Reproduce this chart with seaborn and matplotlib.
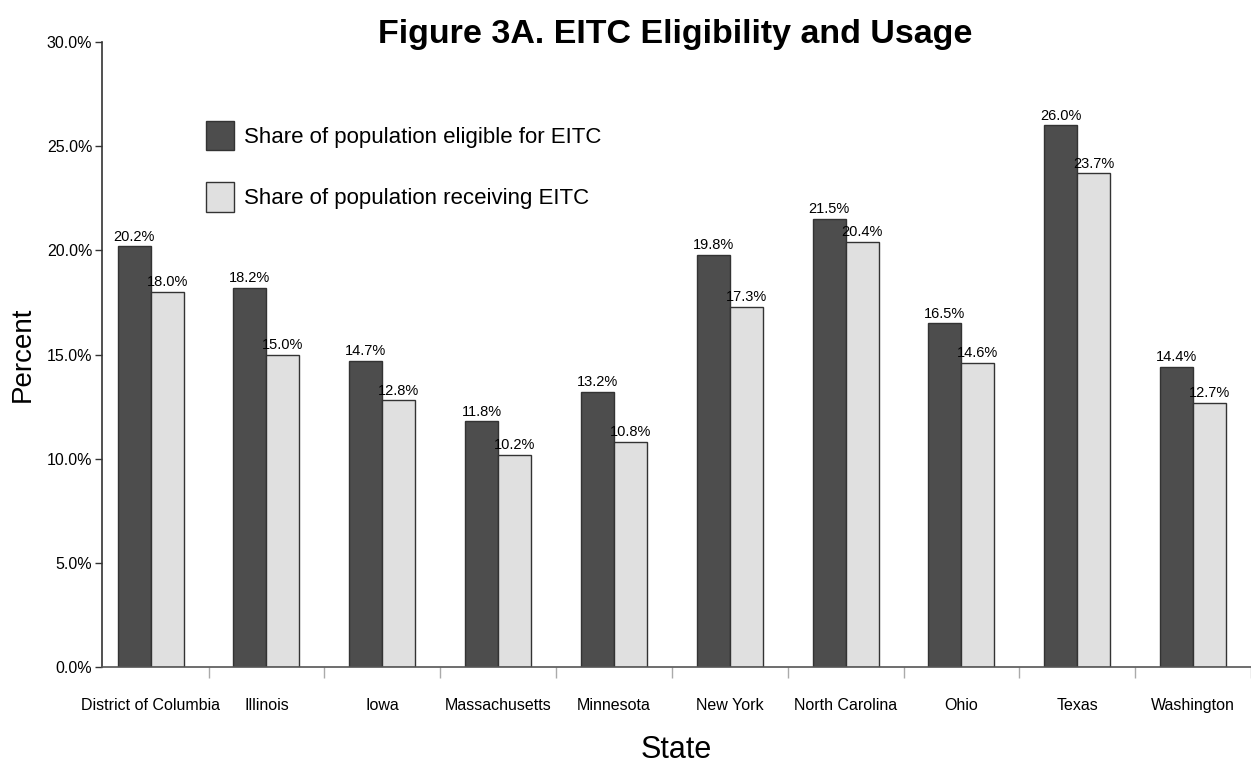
import matplotlib
matplotlib.use("Agg")
import matplotlib.pyplot as plt
import seaborn as sns
import pandas as pd
from matplotlib.patches import Patch
from matplotlib.ticker import FuncFormatter, FixedLocator

states = ["District of Columbia", "Illinois", "Iowa", "Massachusetts", "Minnesota",
          "New York", "North Carolina", "Ohio", "Texas", "Washington"]
eligible = [20.2, 18.2, 14.7, 11.8, 13.2, 19.8, 21.5, 16.5, 26.0, 14.4]
receiving = [18.0, 15.0, 12.8, 10.2, 10.8, 17.3, 20.4, 14.6, 23.7, 12.7]
series = ["Share of population eligible for EITC", "Share of population receiving EITC"]
colors = ["#4d4d4d", "#e0e0e0"]

df = pd.DataFrame({
    "State": states * 2,
    "Percent": eligible + receiving,
    "Series": [series[0]] * len(states) + [series[1]] * len(states),
})

sns.set_theme(style="white")
plt.rcParams["font.family"] = ["Liberation Sans", "DejaVu Sans"]
plt.rcParams["text.color"] = "black"
plt.rcParams["axes.labelcolor"] = "black"
plt.rcParams["xtick.color"] = "black"
plt.rcParams["ytick.color"] = "black"

fig = plt.figure(figsize=(12.51, 7.66), dpi=100)
ax = fig.add_axes([0.0815, 0.129, 0.9185, 0.816])

sns.barplot(data=df, x="State", y="Percent", hue="Series", order=states,
            hue_order=series, palette=colors, width=0.57, edgecolor="#333333",
            linewidth=1.0, legend=False, ax=ax)

for container in ax.containers:
    ax.bar_label(container, labels=[f"{v:.1f}%" for v in container.datavalues],
                 padding=2, fontsize=10.5, color="black")

ax.set_ylim(0, 30)
ax.set_xlim(-0.42, 9.48)
ax.yaxis.set_major_locator(FixedLocator([0, 5, 10, 15, 20, 25, 30]))
ax.yaxis.set_major_formatter(FuncFormatter(lambda v, p: f"{v:.1f}%"))
ax.tick_params(axis="y", which="major", left=True, length=5, width=1, color="#333333",
               labelsize=11.5, pad=2)
ax.set_xticks(range(len(states)))
ax.set_xticklabels(states)
ax.tick_params(axis="x", which="major", bottom=False, length=0, labelsize=11.5, pad=22)
ax.set_xticks([i + 0.5 for i in range(len(states))], minor=True)
ax.tick_params(axis="x", which="minor", bottom=True, length=8, width=1, color="#aaaaaa")

for side in ["top", "right"]:
    ax.spines[side].set_visible(False)
ax.spines["left"].set_color("#333333")
ax.spines["bottom"].set_color("#555555")
ax.spines["left"].set_linewidth(1.2)
ax.spines["bottom"].set_linewidth(1.2)

ax.set_ylabel("Percent", fontsize=20, labelpad=8)
ax.set_xlabel("State", fontsize=22, labelpad=16)
fig.suptitle("Figure 3A. EITC Eligibility and Usage", x=0.54, y=0.975,
             fontsize=24.5, fontweight="bold")

handles = [Patch(facecolor=c, edgecolor="#333333", linewidth=1.0) for c in colors]
ax.legend(handles, series, loc="upper left", bbox_to_anchor=(0.073, 0.906),
          frameon=False, fontsize=16, handlelength=1.25, handleheight=1.65,
          labelspacing=1.45, handletextpad=0.45)

fig.savefig("out.png", dpi=100)
